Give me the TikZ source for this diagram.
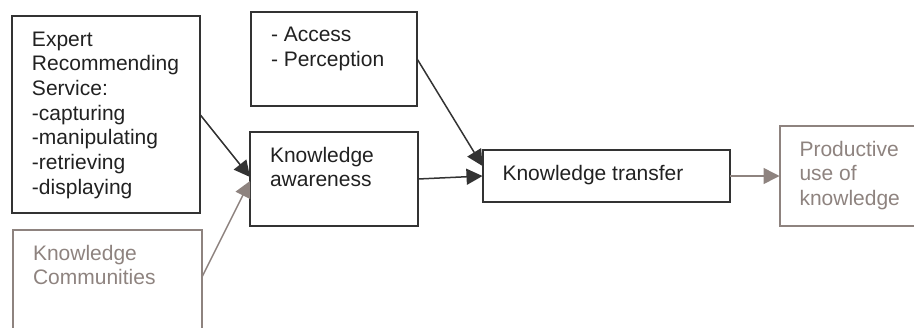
\documentclass[tikz,border=0pt]{standalone}
\usepackage{fontspec}
\setmainfont{Liberation Sans}
\usetikzlibrary{arrows.meta}
\definecolor{ink}{HTML}{333333}
\definecolor{dim}{HTML}{8E837F}
% box contents: width, height, lines (one paragraph per line), text top-aligned
\newcommand\boxlines[3]{\vbox to #2{\hsize=#1\relax\parindent=0pt\parskip=0pt
  \baselineskip=12.35pt\lineskiplimit=-20pt\raggedright
  \vskip7pt\leavevmode\rule{0pt}{8pt}#3\par\vfil}}
\tikzset{
  box/.style={draw=ink, line width=1pt, rectangle, anchor=north west,
    inner xsep=10pt, inner ysep=0pt, outer sep=0pt, text=black!87,
    font=\fontsize{10.5pt}{12.35pt}\selectfont},
  softbox/.style={box, draw=dim, text=dim},
  conn/.style={color=ink, line width=0.75pt, -{Triangle[length=8pt,width=8pt]}},
  softconn/.style={conn, color=dim}
}
\begin{document}
\begin{tikzpicture}[x=0.5pt,y=-0.5pt]
\path[use as bounding box, clip] (0,0) rectangle (914,327);

\node[box] (ers) at (12,16) {\boxlines{74pt}{98.5pt}{Expert\par Recommending\par Service:\par -capturing\par -manipulating\par -retrieving\par -displaying}};
\node[box] (acc) at (251,11.5) {\boxlines{63pt}{47.25pt}{- Access\par - Perception}};
\node[box] (awa) at (250,132) {\boxlines{64pt}{47pt}{Knowledge\par awareness}};
\node[softbox] (com) at (13,230) {\boxlines{74.5pt}{60pt}{Knowledge\par Communities}};
\node[box] (tra) at (482.5,150) {\boxlines{103.75pt}{26pt}{Knowledge transfer}};
\node[softbox] (pro) at (779.5,126) {\boxlines{75pt}{50pt}{Productive\par use of\par knowledge}};

\draw[conn] (ers.east) -- ([yshift=1pt]awa.west);
\draw[softconn] ([yshift=-23.5pt]com.north east) -- ([yshift=-1pt]awa.west);
\draw[conn] (acc.east) -- ([yshift=5pt]tra.west);
\draw[conn] (awa.east) -- (tra.west);
\draw[softconn] (tra.east) -- (pro.west);
\end{tikzpicture}
\end{document}
